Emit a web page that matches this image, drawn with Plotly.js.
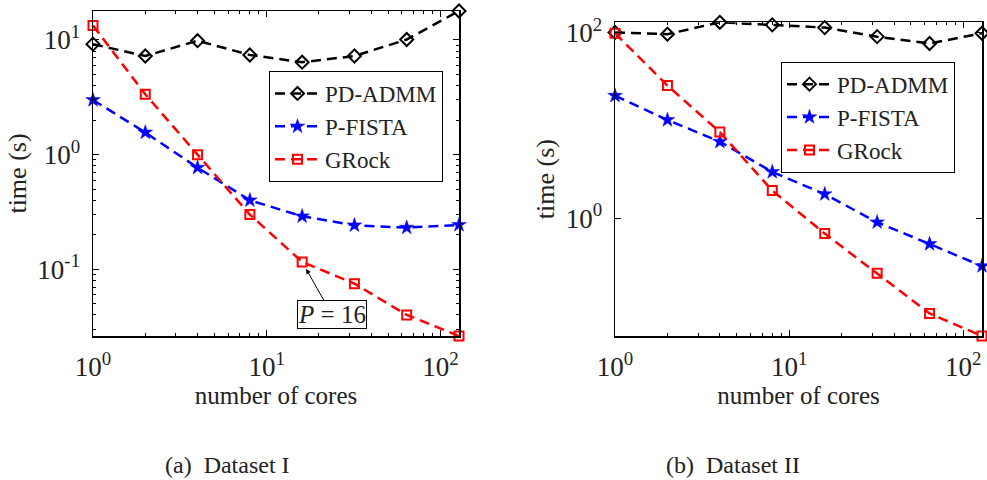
<!DOCTYPE html>
<html>
<head>
<meta charset="utf-8">
<script src="https://cdn.plot.ly/plotly-3.0.1.min.js"></script>
<style>html,body{margin:0;padding:0;background:#fff;}#chart{width:987px;height:480px;}</style>
</head>
<body>
<div id="chart"></div>
<script>
// ---- data ----
const cores = [1, 2, 4, 8, 16, 32, 64, 128];
// Dataset I
const admmA  = [9.2, 7.25, 9.86, 7.4, 6.4, 7.25, 10.1, 17.9];
const fistaA = [3.0, 1.56, 0.77, 0.40, 0.29, 0.242, 0.231, 0.244];
const grockA = [13.4, 3.36, 1.0, 0.30, 0.116, 0.075, 0.040, 0.0262];
// Dataset II
const admmB  = [101, 96.8, 130, 122, 114, 91, 76.8, 99];
const fistaB = [21, 11.5, 6.7, 3.16, 1.82, 0.905, 0.528, 0.305];
const grockB = [99, 27, 8.5, 1.99, 0.684, 0.255, 0.094, 0.0537];
const seriesNames = ['PD-ADMM', 'P-FISTA', 'GRock'];
const xTickVals = [1, 10, 100];
const xTickText = ['10<sup>0</sup>', '10<sup>1</sup>', '10<sup>2</sup>'];
const yTickValsA = [0.1, 1, 10];
const yTickTextA = ['10<sup>-1</sup>', '10<sup>0</sup>', '10<sup>1</sup>'];
const yTickValsB = [1, 100];
const yTickTextB = ['10<sup>0</sup>', '10<sup>2</sup>'];
const captions = ['(a)  Dataset I', '(b)  Dataset II'];
const annotText = '<i>P</i> = 16';

// ---- helpers ----
function minorVals(lo, hi) {
  const v = [];
  for (let d = lo; d <= hi; d++) {
    for (let k = 2; k <= 9; k++) v.push(k * Math.pow(10, d));
  }
  return v;
}
const FONT = 'Liberation Serif, Times New Roman, serif';
const dash = '10px,6px';
const styles = [
  {color: 'black', symbol: 'diamond-open', size: 10, lw: 2},
  {color: 'blue', symbol: 'star', size: 11, lw: 0.5},
  {color: 'red', symbol: 'square-open', size: 9, lw: 2}
];
function mk(y, i, xa, ya, leg) {
  const s = styles[i];
  return {
    x: cores, y: y, type: 'scatter', mode: 'lines+markers',
    name: seriesNames[i], xaxis: xa, yaxis: ya, legend: leg,
    cliponaxis: false,
    line: {color: s.color, width: 2.5, dash: dash},
    marker: {symbol: s.symbol, size: s.size, color: s.color,
             line: {color: s.color, width: s.lw}}
  };
}
const traces = [
  mk(admmA, 0, 'x', 'y', 'legend'),
  mk(fistaA, 1, 'x', 'y', 'legend'),
  mk(grockA, 2, 'x', 'y', 'legend'),
  mk(admmB, 0, 'x2', 'y2', 'legend2'),
  mk(fistaB, 1, 'x2', 'y2', 'legend2'),
  mk(grockB, 2, 'x2', 'y2', 'legend2')
];
const lg = a => Math.log10(a);
const allA = admmA.concat(fistaA, grockA);
const allB = admmB.concat(fistaB, grockB);

function xAxis(dom, anchor) {
  return {
    type: 'log', domain: dom, anchor: anchor,
    range: [lg(cores[0]), lg(cores[cores.length - 1])],
    tickmode: 'array', tickvals: xTickVals, ticktext: xTickText,
    ticks: 'inside', ticklen: 6, tickwidth: 1, tickcolor: 'black',
    minor: {tickmode: 'array', tickvals: minorVals(0, 2), ticks: 'inside', ticklen: 3, tickcolor: 'black', tickwidth: 1},
    showline: true, linecolor: 'black', linewidth: 1.5, mirror: 'ticks',
    showgrid: false, zeroline: false,
    ticklabelstandoff: 6,
    tickfont: {family: FONT, size: 27, color: '#222'},
    title: {text: 'number of cores', font: {family: FONT, size: 25, color: '#222'}, standoff: 0}
  };
}
function yAxis(dom, anchor, all, tv, tt, minor) {
  const ax = {
    type: 'log', domain: dom, anchor: anchor,
    range: [lg(Math.min(...all)), lg(Math.max(...all))],
    tickmode: 'array', tickvals: tv, ticktext: tt,
    ticks: 'inside', ticklen: 6, tickwidth: 1, tickcolor: 'black',
    showline: true, linecolor: 'black', linewidth: 1.5, mirror: 'ticks',
    showgrid: false, zeroline: false,
    ticklabelstandoff: 6,
    tickfont: {family: FONT, size: 27, color: '#222'},
    title: {text: 'time (s)', font: {family: FONT, size: 26, color: '#222'}, standoff: 3}
  };
  if (minor) ax.minor = {tickmode: 'array', tickvals: minorVals(-2, 1), ticks: 'inside', ticklen: 3, tickcolor: 'black', tickwidth: 1};
  return ax;
}

const legendBase = {xanchor: 'left', yanchor: 'top', bgcolor: 'white', bordercolor: 'black',
  borderwidth: 1, itemwidth: 45, tracegroupgap: 0,
  font: {family: FONT, size: 23, color: '#222'}};
const layout = {
  width: 987, height: 480,
  margin: {l: 0, r: 0, t: 0, b: 0},
  paper_bgcolor: 'white', plot_bgcolor: 'white',
  font: {family: FONT, color: '#222'},
  xaxis: xAxis([93 / 987, 459 / 987], 'y'),
  yaxis: yAxis([144 / 480, 469 / 480], 'x', allA, yTickValsA, yTickTextA, true),
  xaxis2: xAxis([615 / 987, 982 / 987], 'y2'),
  yaxis2: yAxis([144 / 480, 457.7 / 480], 'x2', allB, yTickValsB, yTickTextB, false),
  legend: Object.assign({}, legendBase, {x: 269 / 987, y: (480 - 71) / 480}),
  legend2: Object.assign({}, legendBase, {x: 781 / 987, y: (480 - 61.7) / 480}),
  annotations: [
    {xref: 'x', yref: 'y', x: lg(cores[4]), y: lg(grockA[4]), text: annotText,
     showarrow: true, ax: 30, ay: 53, arrowhead: 2, arrowsize: 1, arrowwidth: 1,
     arrowcolor: 'black', standoff: 8, bordercolor: 'black', borderwidth: 1,
     borderpad: 0, bgcolor: 'white', font: {family: FONT, size: 25, color: '#222'}},
    {xref: 'paper', yref: 'paper', x: 227 / 987, y: 15 / 480, xanchor: 'center', yanchor: 'middle',
     text: captions[0], showarrow: false, font: {family: FONT, size: 24, color: '#222'}},
    {xref: 'paper', yref: 'paper', x: 733 / 987, y: 15 / 480, xanchor: 'center', yanchor: 'middle',
     text: captions[1], showarrow: false, font: {family: FONT, size: 24, color: '#222'}}
  ],
  showlegend: true
};
Plotly.newPlot('chart', traces, layout, {staticPlot: true, displayModeBar: false});
</script>
</body>
</html>
